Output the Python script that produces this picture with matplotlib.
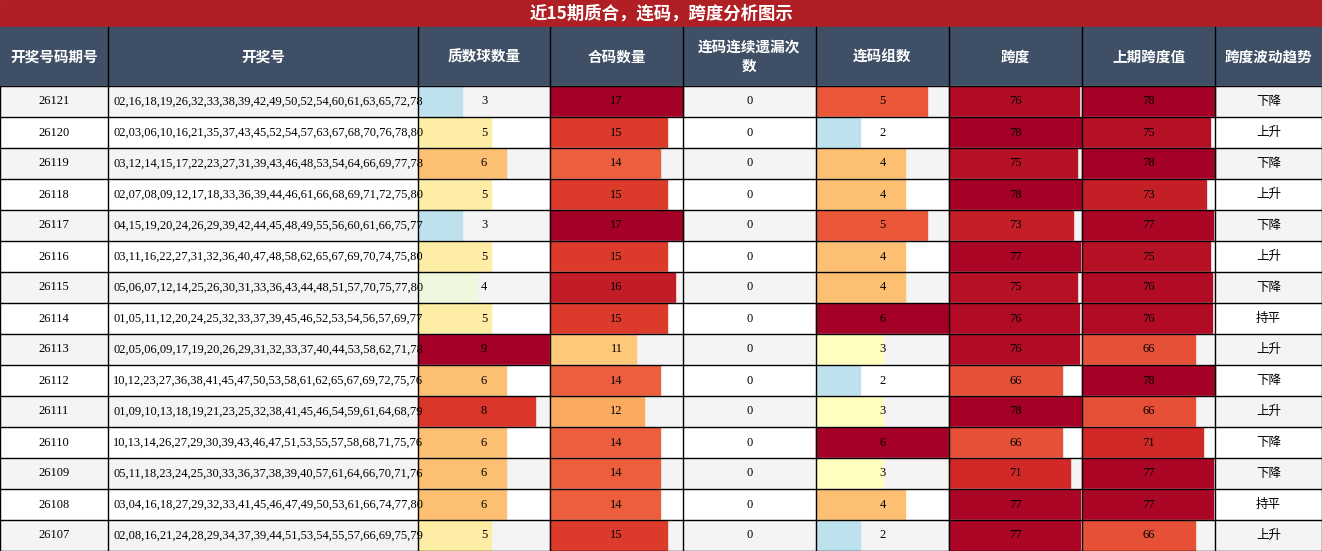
import matplotlib.pyplot as plt
import matplotlib
from matplotlib.patches import Rectangle

plt.rcParams['font.family'] = ['Liberation Serif', 'Noto Sans CJK SC', 'DejaVu Sans']

title = '近15期质合，连码，跨度分析图示'
headers = ['开奖号码期号', '开奖号', '质数球数量', '合码数量', '连码连续遗漏次\n数', '连码组数', '跨度', '上期跨度值', '跨度波动趋势']
periods = ['26121', '26120', '26119', '26118', '26117', '26116', '26115', '26114',
           '26113', '26112', '26111', '26110', '26109', '26108', '26107']
draws = [
    '02,16,18,19,26,32,33,38,39,42,49,50,52,54,60,61,63,65,72,78',
    '02,03,06,10,16,21,35,37,43,45,52,54,57,63,67,68,70,76,78,80',
    '03,12,14,15,17,22,23,27,31,39,43,46,48,53,54,64,66,69,77,78',
    '02,07,08,09,12,17,18,33,36,39,44,46,61,66,68,69,71,72,75,80',
    '04,15,19,20,24,26,29,39,42,44,45,48,49,55,56,60,61,66,75,77',
    '03,11,16,22,27,31,32,36,40,47,48,58,62,65,67,69,70,74,75,80',
    '05,06,07,12,14,25,26,30,31,33,36,43,44,48,51,57,70,75,77,80',
    '01,05,11,12,20,24,25,32,33,37,39,45,46,52,53,54,56,57,69,77',
    '02,05,06,09,17,19,20,26,29,31,32,33,37,40,44,53,58,62,71,78',
    '10,12,23,27,36,38,41,45,47,50,53,58,61,62,65,67,69,72,75,76',
    '01,09,10,13,18,19,21,23,25,32,38,41,45,46,54,59,61,64,68,79',
    '10,13,14,26,27,29,30,39,43,46,47,51,53,55,57,58,68,71,75,76',
    '05,11,18,23,24,25,30,33,36,37,38,39,40,57,61,64,66,70,71,76',
    '03,04,16,18,27,29,32,33,41,45,46,47,49,50,53,61,66,74,77,80',
    '02,08,16,21,24,28,29,34,37,39,44,51,53,54,55,57,66,69,75,79',
]
prime_count = [3, 5, 6, 5, 3, 5, 4, 5, 9, 6, 8, 6, 6, 6, 5]
composite_count = [17, 15, 14, 15, 17, 15, 16, 15, 11, 14, 12, 14, 14, 14, 15]
consec_miss = [0] * 15
consec_groups = [5, 2, 4, 4, 5, 4, 4, 6, 3, 2, 3, 6, 3, 4, 2]
span = [76, 78, 75, 78, 73, 77, 75, 76, 76, 66, 78, 66, 71, 77, 77]
prev_span = [78, 75, 78, 73, 77, 75, 76, 76, 66, 78, 66, 71, 77, 77, 66]
trend = ['下降', '上升', '下降', '上升', '下降', '上升', '下降', '持平',
         '上升', '下降', '上升', '下降', '下降', '持平', '上升']

col_edges = [0, 108, 418, 550, 683, 816, 949, 1082, 1215, 1322]
W, H = 1322, 551
title_h, head_h, row_h = 27, 59, 31

fig = plt.figure(figsize=(W / 100, H / 100), dpi=100)
ax = fig.add_axes([0, 0, 1, 1])
ax.set_xlim(0, W)
ax.set_ylim(H, 0)
ax.axis('off')
cmap = matplotlib.colormaps['RdYlBu_r']

ax.add_patch(Rectangle((0, 0), W, title_h, color='#b01f24'))
ax.text(W / 2, title_h / 2, title, color='white', fontsize=12.5, fontweight='bold',
        ha='center', va='center', family=['Noto Sans CJK SC'])
ax.add_patch(Rectangle((0, title_h), W, head_h, color='#3e4f66'))
for i, h in enumerate(headers):
    cx = (col_edges[i] + col_edges[i + 1]) / 2
    ax.text(cx, title_h + head_h / 2, h, color='white', fontsize=10.5, fontweight='bold',
            ha='center', va='center', linespacing=1.2, family=['Noto Sans CJK SC'])
    if i > 0:
        ax.plot([col_edges[i]] * 2, [title_h, title_h + head_h], color='black', lw=1)

bar_cols = {2: prime_count, 3: composite_count, 4: consec_miss, 5: consec_groups,
            6: span, 7: prev_span}
y0 = title_h + head_h
for r in range(len(periods)):
    top = y0 + r * row_h
    ax.add_patch(Rectangle((0, top), W, row_h, color='#f4f4f4' if r % 2 == 0 else 'white'))
    for c, vals in bar_cols.items():
        mx = max(vals)
        v = vals[r]
        if mx > 0 and v > 0:
            w = (col_edges[c + 1] - col_edges[c]) * v / mx
            ax.add_patch(Rectangle((col_edges[c], top + 0.5), w, row_h - 1,
                                   color=cmap(v / mx)))
    texts = [periods[r], draws[r], prime_count[r], composite_count[r], consec_miss[r],
             consec_groups[r], span[r], prev_span[r], trend[r]]
    for c, t in enumerate(texts):
        if c == 1:
            ax.text(col_edges[1] + 5, top + row_h / 2, t, fontsize=9, ha='left', va='center')
        else:
            cx = (col_edges[c] + col_edges[c + 1]) / 2
            fam = ['Noto Sans CJK SC'] if c == 8 else ['Liberation Serif']
            ax.text(cx, top + row_h / 2, str(t), fontsize=9, ha='center', va='center', family=fam)
    ax.plot([0, W], [top + row_h] * 2, color='black', lw=1)
for x in col_edges:
    ax.plot([x, x], [y0, H], color='black', lw=1)
ax.plot([0, W], [y0, y0], color='black', lw=1)

fig.savefig('out.png', dpi=100)
